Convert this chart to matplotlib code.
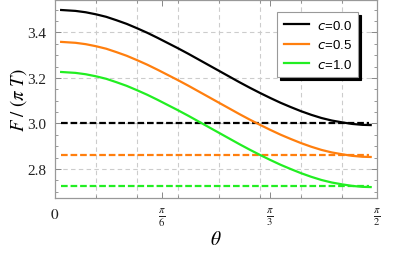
import numpy as np
import matplotlib
matplotlib.use("Agg")
import matplotlib.pyplot as plt
from matplotlib.ticker import MultipleLocator
from matplotlib.font_manager import FontProperties

plt.rcParams['mathtext.fontset'] = 'stix'

# ---- data ----
theta = [0.03, 0.10, 0.15, 0.20, 0.25, 0.30, 0.35, 0.40, 0.45, 0.50,
         0.55, 0.60, 0.65, 0.70, 0.75, 0.80, 0.85, 0.90, 0.95, 1.00,
         1.05, 1.10, 1.15, 1.20, 1.25, 1.30, 1.35, 1.40, 1.45, 1.50, 1.54]
F_c00 = [3.498, 3.494, 3.488, 3.479, 3.468, 3.453, 3.437, 3.418, 3.398, 3.376,
         3.353, 3.330, 3.306, 3.281, 3.256, 3.231, 3.206, 3.181, 3.157, 3.134,
         3.112, 3.091, 3.072, 3.054, 3.038, 3.024, 3.013, 3.005, 2.998, 2.994, 2.993]
F_c05 = [3.358, 3.354, 3.348, 3.339, 3.328, 3.313, 3.297, 3.278, 3.258, 3.236,
         3.213, 3.190, 3.166, 3.141, 3.116, 3.091, 3.066, 3.041, 3.017, 2.994,
         2.972, 2.951, 2.932, 2.914, 2.898, 2.884, 2.873, 2.865, 2.858, 2.854, 2.853]
F_c10 = [3.226, 3.222, 3.216, 3.207, 3.196, 3.181, 3.165, 3.146, 3.126, 3.104,
         3.081, 3.058, 3.034, 3.009, 2.984, 2.959, 2.934, 2.909, 2.885, 2.862,
         2.840, 2.819, 2.800, 2.782, 2.766, 2.752, 2.741, 2.733, 2.726, 2.722, 2.721]
labels = ["$c$=0.0", "$c$=0.5", "$c$=1.0"]
asym = [3.000, 2.861, 2.726]
asym_range = [0.03, 1.53]
colors = ["#000000", "#FF7F0E", "#22EE22"]

xticks = [0, np.pi / 6, np.pi / 3, np.pi / 2]
xticklabels = ["$0$", r"$\frac{\pi}{6}$", r"$\frac{\pi}{3}$", r"$\frac{\pi}{2}$"]
yticks = [2.8, 3.0, 3.2, 3.4]
vgrid = [0.2, 0.4, 0.6, 0.8, 1.0, 1.2, 1.4]
hgrid = [2.8, 3.0, 3.2, 3.4]

fig = plt.figure(figsize=(4.07, 2.55), dpi=100)
ax = fig.add_axes([55 / 407, 1 - 199 / 255, 322 / 407, 199 / 255 - 0.002])

gridkw = dict(color="#CCCCCC", lw=0.8, dashes=(4, 3), zorder=0)
for g in vgrid:
    ax.axvline(g, **gridkw)
for g in hgrid:
    ax.axhline(g, **gridkw)

series = [F_c00, F_c05, F_c10]
for ys, a, c, lab in zip(series, asym, colors, labels):
    ax.plot(theta, ys, color=c, lw=1.6, label=lab, zorder=3)
    ax.plot(asym_range, [a, a], color=c, lw=1.6, dashes=(3.0, 1.3), zorder=2)

ax.set_xlim(0, np.pi / 2)
ax.set_ylim(2.673, 3.544)

ax.set_xticks(xticks)
ax.set_xticklabels(xticklabels, fontsize=11)
ax.set_yticks(yticks)
ax.set_yticklabels([f"{v:.1f}" for v in yticks], family="Liberation Serif", fontsize=11)
ax.xaxis.set_minor_locator(MultipleLocator(0.2))
ax.yaxis.set_minor_locator(MultipleLocator(0.05))

for s in ax.spines.values():
    s.set_color("#999999")
    s.set_linewidth(0.9)
ax.tick_params(which="both", direction="in", top=True, right=True, color="#888888",
               labelcolor="#222222")
ax.tick_params(which="major", length=4, width=0.7, pad=6)
ax.tick_params(which="minor", length=2.2, width=0.6)

ax.set_xlabel(r"$\theta$", fontsize=14, labelpad=1)
ax.set_ylabel(r"$F\ /\ (\pi\ T)$", fontsize=13.5, labelpad=-1)

prop = FontProperties(family="Liberation Sans", size=9.5, math_fontfamily="dejavusans")
leg = ax.legend(loc="upper left", bbox_to_anchor=(277 / 407, 1 - 13 / 255),
                bbox_transform=fig.transFigure, borderaxespad=0,
                fancybox=False, shadow={"color": "black", "alpha": 1},
                edgecolor="#999999", framealpha=1, handlelength=1.9,
                prop=prop, labelspacing=0.5, borderpad=0.5, handletextpad=0.6)
leg.get_frame().set_linewidth(0.8)

fig.savefig("out.png", dpi=100)
